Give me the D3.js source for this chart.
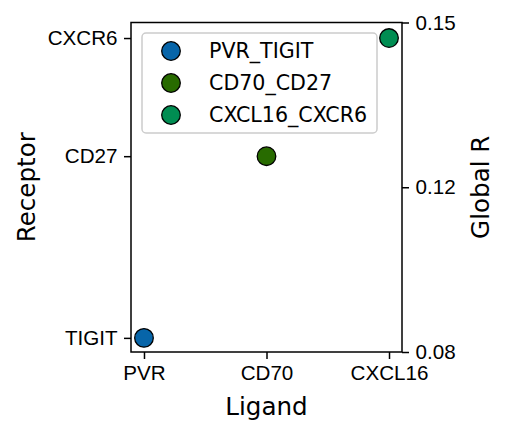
<!DOCTYPE html>
<html>
<head>
<meta charset="utf-8">
<script src="https://cdn.jsdelivr.net/npm/d3@7"></script>
<style>
  body { margin: 0; background: #fff; }
  svg { display: block; font-family: "DejaVu Sans", sans-serif; }
</style>
</head>
<body>
<div class="svgContainer"></div>
<script>
// Data
var PAIRS = ["PVR_TIGIT", "CD70_CD27", "CXCL16_CXCR6"];
var LIGANDS = ["PVR", "CD70", "CXCL16"];
var RECEPTORS = ["TIGIT", "CD27", "CXCR6"];
var GLOBAL_R = [0.0830, 0.1216, 0.1467];
var COLORS = ["#0765a9", "#286b00", "#008d52"];
var R_DOMAIN = [0.08, 0.15];
var R_TICKS = [0.08, 0.115, 0.15];
var R_TICK_LABELS = ["0.08", "0.12", "0.15"];
// End data

var W = 510, H = 435;
var box = {left: 131, right: 402, top: 22.5, bottom: 352};
var TICK = 7, PAD = 6.5, FS = 20.6, LFS = 24.6;

var svg = d3.select(".svgContainer").append("svg")
    .attr("width", W)
    .attr("height", H);

var x = d3.scalePoint()
    .domain(LIGANDS)
    .range([box.left, box.right])
    .padding(0.106);

var y = d3.scaleLinear()
    .domain(R_DOMAIN)
    .range([box.bottom, box.top]);

// left axis: receptor names placed at each pair's global R
var yLeft = d3.scaleOrdinal().domain(RECEPTORS).range(GLOBAL_R.map(function(v) { return y(v); }));

function styleAxis(g) {
    g.select(".domain").remove();
    g.selectAll(".tick line").attr("stroke", "#000").attr("stroke-width", 1.5);
    g.selectAll(".tick text").attr("fill", "#000").attr("font-size", FS);
}

svg.append("g")
    .attr("transform", "translate(0," + box.bottom + ")")
    .call(d3.axisBottom(x).tickSize(TICK).tickPadding(PAD))
    .call(styleAxis);

svg.append("g")
    .attr("transform", "translate(" + box.left + ",0)")
    .call(d3.axisLeft(d3.scaleIdentity()).tickValues(RECEPTORS.map(function(r) { return yLeft(r); }))
        .tickFormat(function(d, i) { return RECEPTORS[i]; })
        .tickSize(TICK).tickPadding(PAD))
    .call(styleAxis);

svg.append("g")
    .attr("transform", "translate(" + box.right + ",0)")
    .call(d3.axisRight(y).tickValues(R_TICKS)
        .tickFormat(function(d, i) { return R_TICK_LABELS[i]; })
        .tickSize(TICK).tickPadding(PAD))
    .call(styleAxis);

// frame
svg.append("rect")
    .attr("x", box.left)
    .attr("y", box.top)
    .attr("width", box.right - box.left)
    .attr("height", box.bottom - box.top)
    .attr("fill", "none")
    .attr("stroke", "#000")
    .attr("stroke-width", 1.5);

// points
svg.selectAll("circle.pt")
    .data(PAIRS)
    .enter().append("circle")
    .attr("class", "pt")
    .attr("cx", function(d, i) { return x(LIGANDS[i]); })
    .attr("cy", function(d, i) { return y(GLOBAL_R[i]); })
    .attr("r", 9.3)
    .attr("fill", function(d, i) { return COLORS[i]; })
    .attr("stroke", "#000")
    .attr("stroke-width", 1.3);

// axis labels
svg.append("text")
    .attr("x", (box.left + box.right) / 2)
    .attr("y", 415)
    .attr("text-anchor", "middle")
    .attr("font-size", LFS)
    .text("Ligand");

svg.append("text")
    .attr("transform", "translate(35," + ((box.top + box.bottom) / 2) + ") rotate(-90)")
    .attr("text-anchor", "middle")
    .attr("font-size", LFS)
    .text("Receptor");

svg.append("text")
    .attr("transform", "translate(489," + ((box.top + box.bottom) / 2) + ") rotate(-90)")
    .attr("text-anchor", "middle")
    .attr("font-size", LFS)
    .text("Global R");

// legend
var legend = svg.append("g").attr("transform", "translate(142,33)");
legend.append("rect")
    .attr("width", 235)
    .attr("height", 100)
    .attr("rx", 4)
    .attr("fill", "#fff")
    .attr("fill-opacity", 0.8)
    .attr("stroke", "#cccccc")
    .attr("stroke-width", 1.5);

var item = legend.selectAll("g.item")
    .data(PAIRS)
    .enter().append("g")
    .attr("class", "item")
    .attr("transform", function(d, i) { return "translate(0," + (18 + i * 32) + ")"; });

item.append("circle")
    .attr("cx", 29)
    .attr("r", 9.3)
    .attr("fill", function(d, i) { return COLORS[i]; })
    .attr("stroke", "#000")
    .attr("stroke-width", 1.3);

item.append("text")
    .attr("x", 67)
    .attr("dy", "0.35em")
    .attr("font-size", FS)
    .text(function(d) { return d; });
</script>
</body>
</html>
